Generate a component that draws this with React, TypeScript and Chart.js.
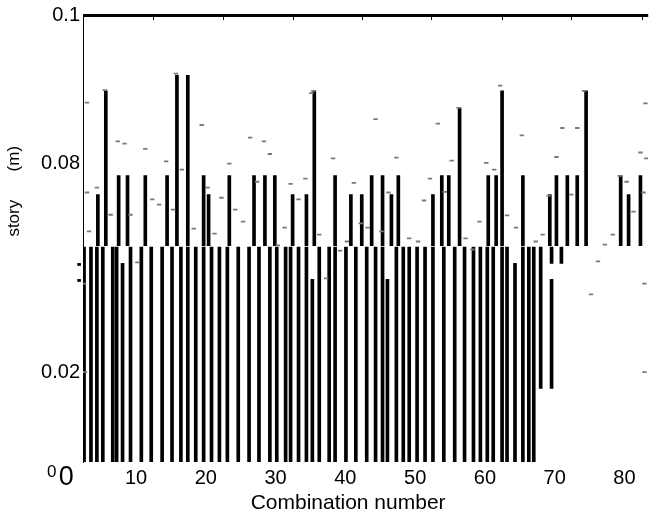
import React, { useEffect, useRef } from "react";
import { Chart, registerables } from "chart.js";

Chart.register(...registerables);

const FONT = "'Liberation Sans', Arial, sans-serif";
const NBSP = "\u00a0";

// The reference y axis is not linear: these breakpoints (metres) and the axis units they sit at
const Y_BREAKS = [0, 0.02, 0.08, 0.1];
const Y_AXIS_UNITS = [0, 90, 299, 448];

const Y_TICKS = [0, 0.02, 0.08, 0.1];
const Y_TICK_LABELS = ["0", "0.02", "0.08", "0.1"];
const X_TICKS = [0, 10, 20, 30, 40, 50, 60, 70, 80];
const X_TICK_LABELS = ["0", "10", "20", "30", "40", "50", "60", "70", "80"];
const TOP_TICKS = [12.46, 22.52, 32.44, 42.35, 52.27, 62.46, 72.38, 82.44];

// lower black bars (from 0)
const LOWER_X = [2.55, 3.54, 4.39, 5.24, 6.66, 7.22, 8.07, 9.21, 10.76, 12.18, 13.74, 15.16, 16.43, 17.42, 18.56, 19.69, 20.82, 21.95, 23.09, 24.65, 26.2, 27.62, 29.18, 30.17, 31.44, 32.15, 33.29, 34.42, 35.27, 36.26, 37.68, 38.53, 40.08, 41.5, 43.06, 44.33, 45.33, 46.03, 47.31, 48.3, 49.15, 50.28, 51.42, 52.55, 54.11, 55.67, 57.08, 58.36, 59.35, 60.34, 61.19, 62.46, 63.17, 64.31, 65.44, 66.29, 67.0];
const LOWER_TOP = [0.056, 0.056, 0.056, 0.056, 0.056, 0.056, 0.0513, 0.056, 0.056, 0.056, 0.056, 0.056, 0.056, 0.056, 0.056, 0.056, 0.056, 0.056, 0.056, 0.056, 0.056, 0.056, 0.056, 0.056, 0.056, 0.056, 0.056, 0.056, 0.0467, 0.056, 0.056, 0.056, 0.056, 0.056, 0.056, 0.056, 0.056, 0.0467, 0.056, 0.056, 0.056, 0.056, 0.056, 0.056, 0.056, 0.056, 0.056, 0.056, 0.056, 0.056, 0.056, 0.056, 0.056, 0.0513, 0.056, 0.056, 0.056];
const LOWER_BASE = 0;

// floating black segments near combination 68-71
const EXTRA_X = [67.99, 69.55, 69.55, 70.96];
const EXTRA_LO = [0.0164, 0.0164, 0.0513, 0.0513];
const EXTRA_HI = [0.056, 0.0467, 0.056, 0.056];

// upper black bars
const UPPER_X = [4.53, 5.67, 7.51, 8.78, 11.33, 14.45, 15.86, 17.42, 19.69, 20.4, 23.37, 26.91, 28.47, 29.89, 32.44, 34.42, 35.55, 38.53, 40.79, 42.35, 43.77, 45.33, 46.6, 47.59, 52.55, 53.82, 54.82, 56.37, 60.48, 61.61, 62.46, 65.44, 69.3, 70.25, 71.81, 73.23, 74.5, 79.46, 80.59, 82.29];
const UPPER_TOP = [0.0711, 0.0898, 0.0766, 0.0766, 0.0766, 0.0766, 0.0919, 0.0919, 0.0766, 0.0711, 0.0766, 0.0766, 0.0766, 0.0766, 0.0711, 0.0711, 0.0898, 0.0766, 0.0711, 0.0711, 0.0766, 0.0766, 0.0711, 0.0766, 0.0711, 0.0766, 0.0766, 0.0875, 0.0766, 0.0766, 0.0898, 0.0766, 0.0711, 0.0766, 0.0766, 0.0766, 0.0898, 0.0766, 0.0711, 0.0766];
const UPPER_BASE = 0.0564;

// grey dash markers [combination, metres]
const DASHES: [number, number][] = [
  [2.97, 0.0882], [2.97, 0.0717], [3.26, 0.0605], [4.39, 0.0731], [6.37, 0.0653], [7.37, 0.083], [8.36, 0.0827], [9.21, 0.0653], [10.2, 0.0516], [11.33, 0.082],
  [12.32, 0.0697], [13.31, 0.0682], [14.31, 0.0803], [15.3, 0.0668], [16.57, 0.0783], [18.27, 0.0613], [19.41, 0.0852], [20.25, 0.0731], [21.25, 0.0599], [22.24, 0.0702],
  [23.37, 0.08], [24.22, 0.0668], [25.35, 0.0633], [26.35, 0.0835], [27.34, 0.0748], [28.33, 0.083], [29.18, 0.0813], [30.31, 0.0565], [31.3, 0.0616], [32.15, 0.0742],
  [33.29, 0.0697], [34.28, 0.0757], [35.13, 0.0895], [36.26, 0.0596], [37.25, 0.047], [38.24, 0.0807], [39.24, 0.055], [40.23, 0.0576], [41.22, 0.0745], [42.21, 0.0628],
  [43.2, 0.0616], [44.33, 0.086], [45.18, 0.0605], [46.18, 0.0717], [47.31, 0.0808], [49.15, 0.0585], [50.42, 0.0576], [51.27, 0.0694], [52.12, 0.0757], [53.26, 0.0854],
  [54.25, 0.0719], [55.24, 0.0804], [56.23, 0.0875], [57.22, 0.0585], [58.22, 0.0553], [59.21, 0.0633], [60.2, 0.0801], [61.33, 0.0783], [62.18, 0.0905], [63.17, 0.0651],
  [64.45, 0.0616], [65.3, 0.0838], [67.28, 0.0576], [68.27, 0.0596], [69.12, 0.0708], [70.25, 0.0809], [71.1, 0.0848], [72.38, 0.0711], [73.23, 0.0848], [74.22, 0.0898],
  [75.21, 0.0424], [76.2, 0.0519], [77.2, 0.0567], [78.33, 0.0596], [79.32, 0.0765], [80.31, 0.0748], [81.3, 0.0662], [82.29, 0.0815], [82.72, 0.0717], [82.86, 0.0455],
  [82.86, 0.02], [83.14, 0.0807], [83.0, 0.0881], [5.52, 0.0899], [15.72, 0.0921], [35.41, 0.0898], [2.69, 0.02], [2.55, 0.0455]
];
const OUTSIDE_GREY: [number, number][] = [[0.99, 0.0714], [1.13, 0.0565]];
const OUTSIDE_BLACK: [number, number][] = [[0.85, 0.051], [1.84, 0.051], [0.85, 0.0464], [1.84, 0.0464]];

function warp(v: number): number {
  for (let i = 1; i < Y_BREAKS.length; i++) {
    if (v <= Y_BREAKS[i] || i === Y_BREAKS.length - 1) {
      const t = (v - Y_BREAKS[i - 1]) / (Y_BREAKS[i] - Y_BREAKS[i - 1]);
      return Y_AXIS_UNITS[i - 1] + t * (Y_AXIS_UNITS[i] - Y_AXIS_UNITS[i - 1]);
    }
  }
  return v;
}

const floating = (xs: number[], lo: number[] | number, hi: number[]) =>
  xs.map((x, i) => ({ x, y: [warp(Array.isArray(lo) ? lo[i] : lo), warp(hi[i])] }));

const points = (pts: [number, number][]) => pts.map(([x, y]) => ({ x, y: warp(y) }));

const framePlugin = {
  id: "frame",
  afterDatasetsDraw(chart: any) {
    const { ctx, chartArea, scales } = chart;
    ctx.save();
    ctx.strokeStyle = "#000";
    ctx.lineWidth = 3;
    ctx.beginPath();
    ctx.moveTo(chartArea.left, chartArea.top + 0.5);
    ctx.lineTo(chartArea.right, chartArea.top + 0.5);
    ctx.stroke();
    ctx.lineWidth = 1;
    ctx.beginPath();
    for (const v of TOP_TICKS) {
      const px = Math.round(scales.x.getPixelForValue(v)) + 0.5;
      ctx.moveTo(px, chartArea.top);
      ctx.lineTo(px, chartArea.top + 5);
    }
    ctx.stroke();
    ctx.restore();
  },
};

export default function App() {
  const ref = useRef<HTMLCanvasElement>(null);
  useEffect(() => {
    const barStyle = { backgroundColor: "#000", barThickness: 3, grouped: false, borderWidth: 0 };
    const dashStyle = { pointStyle: "line", radius: 2.2, borderColor: "#7a7a7a", borderWidth: 1.8 };
    const chart = new Chart(ref.current as HTMLCanvasElement, {
      type: "bar",
      data: {
        datasets: [
          { type: "bar", data: floating(LOWER_X, LOWER_BASE, LOWER_TOP), ...barStyle, order: 5 } as any,
          { type: "bar", data: floating(EXTRA_X, EXTRA_LO, EXTRA_HI), ...barStyle, order: 4 } as any,
          { type: "bar", data: floating(UPPER_X, UPPER_BASE, UPPER_TOP), ...barStyle, order: 3 } as any,
          { type: "scatter", data: points(DASHES), ...dashStyle, order: 1 } as any,
          { type: "scatter", data: points(OUTSIDE_GREY), ...dashStyle, clip: false, order: 1 } as any,
          { type: "scatter", data: points(OUTSIDE_BLACK), pointStyle: "line", radius: 1.8, borderColor: "#000", borderWidth: 2.8, clip: false, order: 0 } as any,
        ],
      },
      options: {
        animation: false,
        responsive: true,
        maintainAspectRatio: false,
        events: [],
        layout: { padding: { top: 14, right: 0, bottom: 0, left: 0 } },
        plugins: { legend: { display: false }, tooltip: { enabled: false } },
        scales: {
          x: {
            type: "linear",
            min: 2.4,
            max: 83.4,
            offset: false,
            grid: { display: false, drawTicks: false },
            border: { display: false },
            afterBuildTicks: (s: any) => { s.ticks = X_TICKS.map((v) => ({ value: v })); },
            afterFit: (s: any) => { s.height = 54; },
            ticks: {
              autoSkip: false,
              maxRotation: 0,
              padding: 4,
              color: "#000",
              callback: (_v: any, i: number) => X_TICK_LABELS[i],
              font: (c: any) => (c.index === 0 ? { family: FONT, size: 27, lineHeight: 0.85 } : { family: FONT, size: 20 }),
            },
            title: {
              display: true,
              text: "Combination number" + NBSP.repeat(6),
              color: "#000",
              font: { family: FONT, size: 21 },
              padding: { top: 1, bottom: 0 },
            },
          } as any,
          y: {
            type: "linear",
            min: 0,
            max: warp(0.1),
            grid: { display: false, drawTicks: false },
            border: { display: true, color: "#000", width: 1 },
            afterBuildTicks: (s: any) => { s.ticks = Y_TICKS.map((v) => ({ value: warp(v) })); },
            afterFit: (s: any) => { s.width = 83; },
            ticks: {
              autoSkip: false,
              padding: 3,
              color: "#000",
              callback: (_v: any, i: number) => (i === 0 ? ["", Y_TICK_LABELS[i] + NBSP.repeat(5)] : Y_TICK_LABELS[i]),
              font: (c: any) => (c.index === 0 ? { family: FONT, size: 17 } : { family: FONT, size: 20 }),
            },
            title: {
              display: true,
              text: NBSP.repeat(20) + "story" + NBSP.repeat(6) + "(m)",
              color: "#000",
              font: { family: FONT, size: 17 },
              padding: { top: 4, bottom: 0 },
            },
          } as any,
        },
      },
      plugins: [framePlugin],
    });
    return () => chart.destroy();
  }, []);
  return (
    <div style={{ position: "fixed", left: 0, top: 0, width: 655, height: 516, background: "#fff" }}>
      <canvas ref={ref} />
    </div>
  );
}
